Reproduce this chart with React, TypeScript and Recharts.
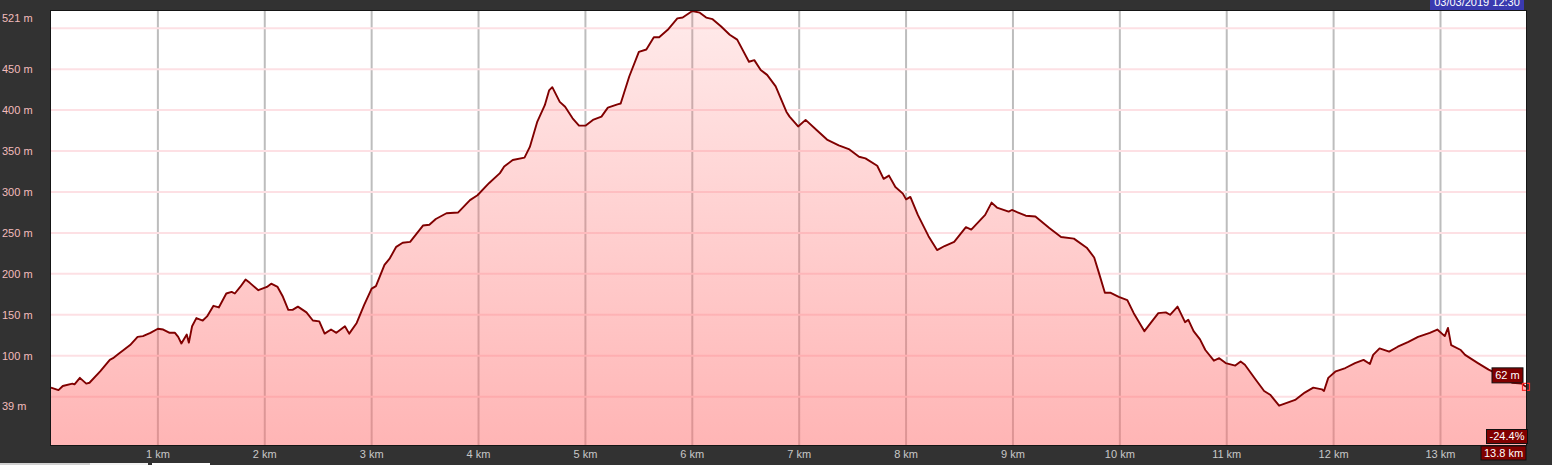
import { AreaChart, Area, XAxis, YAxis, CartesianGrid } from 'recharts';

// elevation profile, distance in km / elevation in m
const distanceKm = [
  0.0, 0.07, 0.11, 0.2, 0.22, 0.27, 0.33, 0.36, 0.46, 0.55, 0.58, 0.63, 0.67, 0.74, 0.81, 0.86, 0.93,
  1.0, 1.05, 1.11, 1.16, 1.19, 1.22, 1.27, 1.29, 1.32, 1.36, 1.42, 1.46, 1.52, 1.57, 1.64, 1.69, 1.72,
  1.77, 1.82, 1.86, 1.94, 2.02, 2.06, 2.12, 2.17, 2.22, 2.26, 2.31, 2.39, 2.45, 2.51, 2.56, 2.62, 2.67,
  2.75, 2.79, 2.86, 2.93, 3.0, 3.04, 3.12, 3.17, 3.23, 3.29, 3.36, 3.48, 3.54, 3.6, 3.7, 3.81, 3.92,
  3.99, 4.1, 4.2, 4.24, 4.32, 4.43, 4.48, 4.55, 4.62, 4.66, 4.69, 4.76, 4.81, 4.88, 4.94, 5.0, 5.07,
  5.15, 5.21, 5.3, 5.33, 5.41, 5.5, 5.57, 5.64, 5.69, 5.77, 5.86, 5.91, 6.0, 6.07, 6.13, 6.19, 6.27,
  6.35, 6.42, 6.53, 6.58, 6.64, 6.7, 6.78, 6.88, 6.91, 6.99, 7.06, 7.16, 7.26, 7.37, 7.47, 7.56, 7.62,
  7.73, 7.79, 7.84, 7.9, 7.97, 8.0, 8.04, 8.11, 8.21, 8.29, 8.36, 8.45, 8.56, 8.61, 8.74, 8.8, 8.85,
  8.96, 8.99, 9.12, 9.21, 9.34, 9.45, 9.57, 9.69, 9.76, 9.8, 9.86, 9.91, 9.99, 10.07, 10.13, 10.23,
  10.3, 10.36, 10.43, 10.47, 10.54, 10.61, 10.64, 10.69, 10.75, 10.8, 10.88, 10.93, 10.99, 11.08,
  11.13, 11.17, 11.27, 11.35, 11.41, 11.49, 11.64, 11.73, 11.81, 11.89, 11.91, 11.95, 12.02, 12.11,
  12.2, 12.28, 12.34, 12.37, 12.43, 12.52, 12.6, 12.7, 12.79, 12.9, 12.97, 13.04, 13.07, 13.1, 13.19,
  13.23, 13.35, 13.45, 13.56, 13.67, 13.76, 13.8,
];
const elevationM = [
  61, 58, 63, 66, 65, 73, 66, 67, 81, 95, 97, 102, 106, 113, 123, 124, 128,
  133, 132, 128, 128, 123, 115, 126, 116, 136, 146, 143, 148, 161, 159, 176, 178, 176,
  184, 193, 189, 180, 184, 188, 184, 172, 156, 156, 160, 153, 143, 142, 127, 132, 128,
  136, 127, 140, 162, 182, 185, 211, 219, 233, 238, 239, 259, 260, 267, 274, 275, 290,
  296, 311, 323, 331, 339, 342, 355, 386, 406, 424, 428, 410, 404, 390, 381, 381, 388,
  392, 403, 407, 408, 441, 471, 474, 489, 489, 498, 512, 513, 521, 519, 513, 511, 502,
  492, 486, 459, 461, 449, 443, 429, 398, 392, 380, 388, 376, 364, 357, 352, 343, 341,
  332, 316, 320, 306, 298, 291, 294, 272, 246, 229, 234, 239, 257, 254, 272, 287, 281,
  276, 278, 271, 270, 256, 245, 243, 232, 220, 203, 177, 177, 172, 168, 152, 130,
  142, 152, 153, 150, 160, 141, 144, 130, 120, 107, 94, 97, 91, 88,
  93, 89, 71, 57, 52, 39, 46, 55, 61, 59, 57, 73, 81, 85,
  91, 95, 90, 101, 109, 105, 111, 117, 123, 128, 132, 124, 134, 113, 107,
  101, 91, 83, 76, 67, 66, 62,
];

const yTickValues = [39, 100, 150, 200, 250, 300, 350, 400, 450, 521];
const yGridValues = [50, 100, 150, 200, 250, 300, 350, 400, 450, 500];
const xTickValues = [1, 2, 3, 4, 5, 6, 7, 8, 9, 10, 11, 12, 13, 13.8];
const gradeLabel = '-24.4%';
const dateLabel = '03/03/2019 12:30';

const data = distanceKm.map((km, i) => ({ km, ele: elevationM[i] }));
const lastIndex = data.length - 1;
const FONT = '"Liberation Sans", Arial, sans-serif';

function YTick(props: any) {
  const { y, payload } = props;
  const dy = payload.value === 521 ? 7 : 0;
  return (
    <text x={2} y={y + dy} dy={4} fill="#f2bcbc" fontSize={11} fontFamily={FONT} textAnchor="start">
      {payload.value} m
    </text>
  );
}

function XTick(props: any) {
  const { x, payload } = props;
  if (payload.value === 13.8) {
    return (
      <g>
        <rect x={x - 45} y={446} width={45} height={14} fill="#800000" stroke="#111" strokeWidth={1} />
        <text x={x - 22.5} y={457} fill="#fff" fontSize={11} fontFamily={FONT} textAnchor="middle">
          {payload.value} km
        </text>
      </g>
    );
  }
  return (
    <text x={x} y={458} fill="#c8c8c8" fontSize={11} fontFamily={FONT} textAnchor="middle">
      {payload.value} km
    </text>
  );
}

function EndDot(props: any) {
  const { cx, cy, index } = props;
  if (index !== lastIndex) return <g key={`d${index}`} />;
  return (
    <g key="end">
      <rect x={cx - 34} y={cy - 19} width={31} height={15} fill="#800000" stroke="#111" strokeWidth={1} />
      <text x={cx - 18.5} y={cy - 7.5} fill="#fff" fontSize={11} fontFamily={FONT} textAnchor="middle">
        {elevationM[lastIndex]} m
      </text>
      <rect x={cx - 3.5} y={cy - 3.5} width={7} height={7} fill="none" stroke="#ff2a2a" strokeWidth={1.2} />
    </g>
  );
}

export default function App() {
  return (
    <div style={{ position: 'fixed', left: 0, top: 0, width: 1552, height: 465, background: '#323232', overflow: 'hidden' }}>
      <AreaChart width={1552} height={465} data={data} margin={{ top: 11, right: 26, bottom: 0, left: 0 }}>
        <defs>
          <linearGradient id="eleFill" x1="0" y1="0" x2="0" y2="1">
            <stop offset="0%" stopColor="#ff6b6b" stopOpacity={0.14} />
            <stop offset="100%" stopColor="#ff6b6b" stopOpacity={0.5} />
          </linearGradient>
        </defs>
        <CartesianGrid fill="#fff" horizontal={false} verticalValues={xTickValues.slice(0, 13)} stroke="#bdbdbd" strokeWidth={2} />
        <CartesianGrid vertical={false} horizontalValues={yGridValues} stroke="#fde0e4" strokeWidth={2} />
        <XAxis
          dataKey="km"
          type="number"
          domain={[0, 13.8]}
          ticks={xTickValues}
          interval={0}
          tick={<XTick />}
          tickLine={false}
          axisLine={false}
          height={20}
        />
        <YAxis
          type="number"
          domain={[-9, 521]}
          ticks={yTickValues}
          interval={0}
          tick={<YTick />}
          tickLine={false}
          axisLine={false}
          width={51}
        />
        <Area
          type="linear"
          dataKey="ele"
          stroke="#800000"
          strokeWidth={1.9}
          strokeLinejoin="round"
          fill="url(#eleFill)"
          fillOpacity={1}
          baseValue="dataMin"
          dot={(p: any) => <EndDot key={`dot${p.index}`} {...p} />}
          activeDot={false}
          isAnimationActive={false}
        />
      </AreaChart>
      <div style={{ position: 'absolute', left: 50, top: 10, width: 1475, height: 434, border: '1px solid #151515', pointerEvents: 'none' }} />
      <div style={{ position: 'absolute', left: 1486, top: 429, width: 40, height: 13, background: '#800000', border: '1px solid #111', color: '#fff', fontFamily: FONT, fontSize: 11, lineHeight: '13px', textAlign: 'center' }}>
        {gradeLabel}
      </div>
      <div style={{ position: 'absolute', left: 1430, top: 0, width: 94, height: 10, background: '#3a3ab0', overflow: 'hidden' }}>
        <div style={{ position: 'absolute', left: 0, top: -4, width: 94, color: '#fff', fontFamily: FONT, fontSize: 11, lineHeight: '12px', textAlign: 'center' }}>
          {dateLabel}
        </div>
      </div>
      <div style={{ position: 'absolute', left: 0, top: 463, width: 90, height: 2, background: '#d0d0d0' }} />
      <div style={{ position: 'absolute', left: 90, top: 463, width: 58, height: 2, background: '#f2f2f2' }} />
      <div style={{ position: 'absolute', left: 152, top: 463, width: 58, height: 2, background: '#fff' }} />
    </div>
  );
}
